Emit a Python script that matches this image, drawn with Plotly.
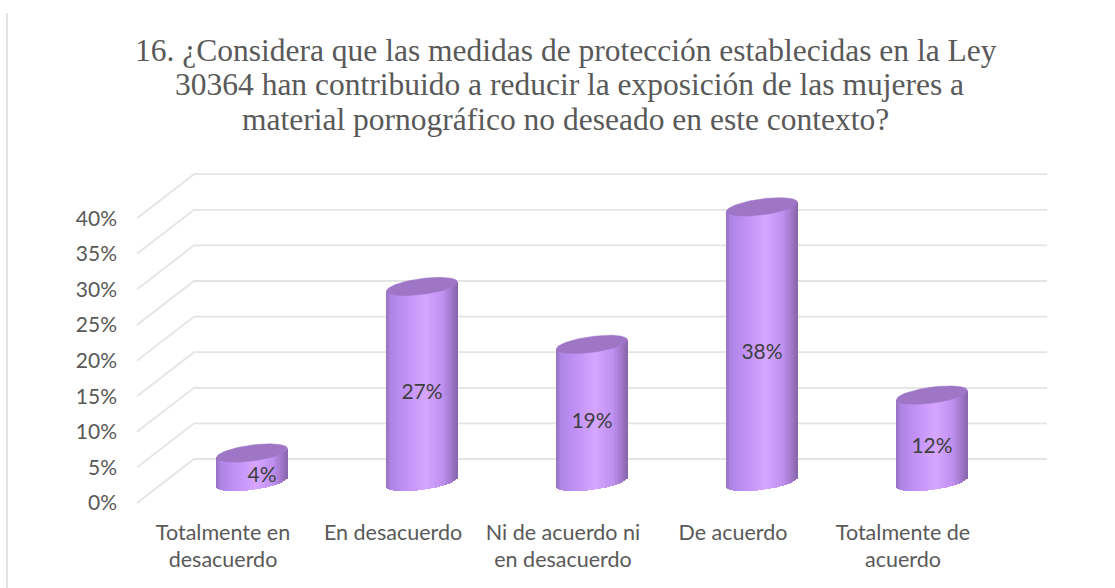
import numpy as np
import plotly.graph_objects as go

categories = ["Totalmente en<br>desacuerdo", "En desacuerdo", "Ni de acuerdo ni<br>en desacuerdo",
              "De acuerdo", "Totalmente de<br>acuerdo"]
values = [4, 27, 19, 38, 12]
y_ticks = [0, 5, 10, 15, 20, 25, 30, 35, 40]
title_lines = ["16. ¿Considera que las medidas de protección establecidas en la Ley",
               "30364 han contribuido a reducir la exposición de las mujeres a",
               "material pornográfico no deseado en este contexto?"]

TEXT = "#595959"
GRID = "#E4E4E4"
CAP = "#9F76C6"

# fake 3D geometry
STEP_PX = 170.0
BAR_PX_PER_PCT = 7.24
GRID_PX_PER_PCT = 7.12
BASE_PX = 482.0
ZERO_LABEL_PX = 503.0
FIRST_LABEL_PX = 223.0
BAR_SHIFT = 29 / STEP_PX
HALF_W = 35.5 / STEP_PX
ELL_H = 8 / BAR_PX_PER_PCT
TILT = 4.5 / BAR_PX_PER_PCT
BACK_SHIFT = 44 / GRID_PX_PER_PCT
PLOT_TOP, PLOT_BOTTOM = 150, 517


def px_x(px):
    return (px - FIRST_LABEL_PX) / STEP_PX


def shade(t):
    stops_t = [-1.0, -0.88, -0.55, 0.12, 0.6, 0.85, 1.0]
    stops_r = [150, 172, 188, 214, 190, 160, 136]
    stops_g = [112, 132, 142, 166, 144, 118, 102]
    stops_b = [190, 226, 244, 255, 240, 200, 172]
    r = np.interp(t, stops_t, stops_r)
    g = np.interp(t, stops_t, stops_g)
    b = np.interp(t, stops_t, stops_b)
    return f"rgb({r:.0f},{g:.0f},{b:.0f})"


fig = go.Figure()

# cylinder bodies as narrow shaded strips
strips = np.linspace(-0.985, 0.985, 48)
strip_w = HALF_W * (strips[1] - strips[0]) * 1.15
for i, v in enumerate(values):
    bottom = TILT * strips - ELL_H * np.sqrt(1 - strips ** 2)
    top = v + TILT * strips
    fig.add_trace(go.Bar(
        x=i + BAR_SHIFT + HALF_W * strips,
        y=top - bottom,
        base=bottom,
        width=strip_w,
        marker=dict(color=[shade(t) for t in strips], line=dict(width=0)),
        showlegend=False,
        hoverinfo="skip",
    ))

# top caps
theta = np.linspace(0, 2 * np.pi, 80)
for i, v in enumerate(values):
    fig.add_trace(go.Scatter(
        x=i + BAR_SHIFT + HALF_W * np.cos(theta),
        y=v + TILT * np.cos(theta) + ELL_H * np.sin(theta),
        mode="lines",
        fill="toself",
        fillcolor=CAP,
        line=dict(color=CAP, width=0.5),
        showlegend=False,
        hoverinfo="skip",
    ))

# data labels
label_shift = [10 / STEP_PX, 0, 0, 0, 0]
fig.add_trace(go.Scatter(
    x=[i + BAR_SHIFT + label_shift[i] for i in range(len(values))],
    y=[v / 2 - 1.3 for v in values],
    mode="text",
    text=[f"{v}%" for v in values],
    textfont=dict(family="Lato", size=21, color="#404040"),
    textposition="middle center",
    showlegend=False,
    hoverinfo="skip",
))

# only here so the percent axis gets drawn
fig.add_trace(go.Scatter(x=[0] * len(y_ticks), y=y_ticks, yaxis="y2", mode="markers",
                         marker=dict(opacity=0), showlegend=False, hoverinfo="skip"))

# back wall and side wall lines
shapes = []
for t in y_ticks:
    shapes.append(dict(
        type="path",
        xref="x", yref="y2",
        path=(f"M {px_x(137)} {t} "
              f"L {px_x(194)} {t + BACK_SHIFT} "
              f"L {px_x(1047)} {t + BACK_SHIFT}"),
        line=dict(color=GRID, width=1.8),
        layer="below",
    ))

# picture border on the left
plot_h = PLOT_BOTTOM - PLOT_TOP
shapes.append(dict(type="line", xref="paper", yref="paper",
                   x0=7 / 1115, x1=7 / 1115,
                   y0=(PLOT_BOTTOM - 588) / plot_h, y1=(PLOT_BOTTOM - 13) / plot_h,
                   line=dict(color="#DADADA", width=1.5), layer="below"))

# title lines are set apart by hand, tighter than a plotly title would be
annotations = []
for line, centre_x, centre_y in zip(title_lines, [566, 569, 565], [51, 85, 120]):
    annotations.append(dict(
        text=line, showarrow=False,
        xref="paper", yref="paper",
        x=centre_x / 1115, y=(PLOT_BOTTOM - centre_y) / plot_h,
        xanchor="center", yanchor="middle",
        font=dict(family="Liberation Serif", size=31.5, color=TEXT),
    ))

fig.update_layout(
    width=1115,
    height=588,
    margin=dict(l=0, r=0, t=PLOT_TOP, b=588 - PLOT_BOTTOM),
    paper_bgcolor="white",
    plot_bgcolor="white",
    barmode="overlay",
    bargap=0,
    shapes=shapes,
    annotations=annotations,
    xaxis=dict(
        range=[px_x(0), px_x(1115)],
        tickmode="array",
        tickvals=list(range(len(categories))),
        ticktext=categories,
        showgrid=False, zeroline=False, showline=False, ticks="",
        tickfont=dict(family="Lato", size=21.5, color=TEXT),
    ),
    yaxis=dict(
        range=[(BASE_PX - PLOT_BOTTOM) / BAR_PX_PER_PCT, (BASE_PX - PLOT_TOP) / BAR_PX_PER_PCT],
        visible=False,
    ),
    yaxis2=dict(
        overlaying="y",
        anchor="free",
        position=117 / 1115,
        side="left",
        range=[(ZERO_LABEL_PX - PLOT_BOTTOM) / GRID_PX_PER_PCT, (ZERO_LABEL_PX - PLOT_TOP) / GRID_PX_PER_PCT],
        tickmode="array",
        tickvals=y_ticks,
        ticktext=[f"{t}%" for t in y_ticks],
        showgrid=False, zeroline=False, showline=False, ticks="",
        tickfont=dict(family="Lato", size=21, color=TEXT),
    ),
)

fig.write_html("out.html", config={"displayModeBar": False},
               post_script="document.body.style.margin='0';")
